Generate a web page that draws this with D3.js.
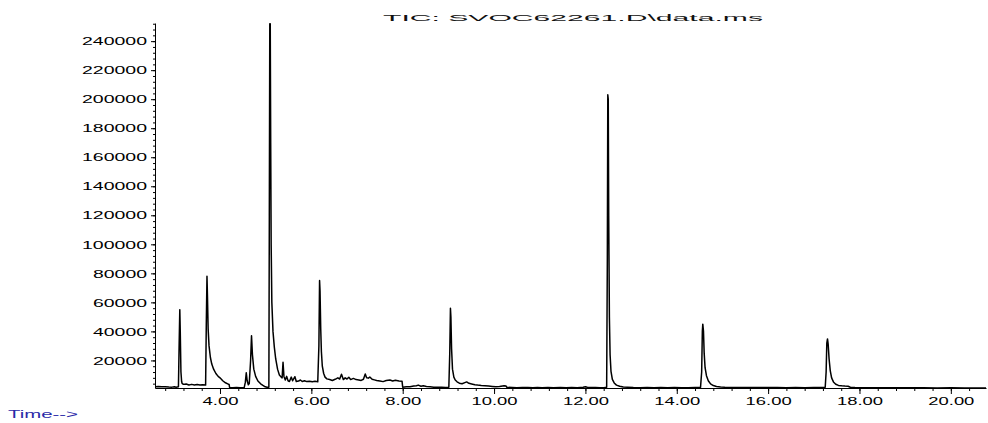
<!DOCTYPE html>
<html>
<head>
<meta charset="utf-8">
<script src="https://cdn.jsdelivr.net/npm/d3@7"></script>
<style>
  body { margin: 0; background: #fff; }
  text { font-family: "Liberation Sans", Arial, sans-serif; }
</style>
</head>
<body>
<script>
// chromatogram trace (minutes, abundance)
var times = [
  2.58, 2.65, 2.72, 2.80, 2.88, 2.95, 3.00, 3.04, 3.09,
  3.105, 3.12, 3.13, 3.145, 3.16, 3.17, 3.20, 3.26, 3.32, 3.38, 3.44, 3.50, 3.56, 3.62, 3.685,
  3.70, 3.715, 3.725, 3.74, 3.76, 3.79, 3.82, 3.86, 3.91, 3.96, 4.00, 4.06, 4.12, 4.18, 4.20,
  4.21, 4.28, 4.36, 4.44, 4.53,
  4.555, 4.575, 4.595, 4.62, 4.64, 4.67, 4.69, 4.71, 4.74, 4.78, 4.83, 4.89, 4.94, 4.99, 5.03, 5.07,
  5.08, 5.09, 5.10, 5.11, 5.12, 5.135, 5.16, 5.19, 5.22, 5.26, 5.30, 5.34, 5.36,
  5.38, 5.40, 5.43, 5.46, 5.49, 5.52, 5.56, 5.59, 5.64, 5.67, 5.72, 5.76, 5.80, 5.85, 5.90, 5.96,
  6.02, 6.08, 6.14,
  6.165, 6.18, 6.19, 6.205, 6.22, 6.24, 6.27, 6.30, 6.34, 6.40, 6.46, 6.52, 6.58, 6.62, 6.66, 6.70,
  6.74, 6.78, 6.82, 6.86, 6.92, 6.98, 7.04, 7.09, 7.14, 7.18, 7.21, 7.25, 7.28, 7.33, 7.38,
  7.43, 7.50, 7.57, 7.64, 7.72, 7.78, 7.84, 7.92, 7.985,
  8.00, 8.08, 8.16, 8.24, 8.30, 8.34, 8.40, 8.45, 8.52, 8.60, 8.68, 8.76, 8.85, 8.94, 9.01,
  9.03, 9.045, 9.055, 9.07, 9.09, 9.12, 9.15, 9.19, 9.24, 9.30, 9.36, 9.40, 9.45, 9.51, 9.58, 9.64,
  9.72, 9.80, 9.88, 9.96, 10.04, 10.12, 10.22, 10.26, 10.28, 10.40, 10.50, 10.62, 10.74,
  10.85, 10.95, 11.05, 11.18, 11.30, 11.45, 11.58, 11.70, 11.82, 11.95, 12.00, 12.04, 12.12,
  12.22, 12.32, 12.42, 12.465,
  12.48, 12.49, 12.50, 12.51, 12.525, 12.54, 12.56, 12.59, 12.63, 12.68, 12.75, 12.83, 12.92,
  13.05, 13.20, 13.35, 13.50, 13.65, 13.80, 13.95, 14.10, 14.25, 14.40, 14.52,
  14.545, 14.56, 14.57, 14.585, 14.60, 14.62, 14.65, 14.69, 14.74, 14.80, 14.87, 14.96, 15.05,
  15.20, 15.40, 15.60, 15.80, 16.00, 16.20, 16.40, 16.60, 16.80, 17.00, 17.15, 17.25,
  17.27, 17.285, 17.30, 17.315, 17.335, 17.36, 17.39, 17.43, 17.48, 17.54, 17.61, 17.68, 17.75,
  17.80, 17.90, 18.10, 18.30, 18.50, 18.80, 19.10, 19.40, 19.70, 20.00, 20.30, 20.77
];
var abundance = [
  1900, 2100, 1800, 1900, 1700, 1600, 1900, 1500, 1800,
  30000, 55000, 40000, 12000, 5500, 4200, 3500, 3800, 3100, 3500, 3000, 3400, 3000, 3300, 3000,
  45000, 78000, 65000, 42000, 30000, 22000, 17500, 14000, 11000, 9000, 8000, 6000, 4600, 3700, 3400,
  1400, 1200, 1300, 1100, 1300,
  5000, 11500, 6000, 3200, 4000, 20000, 37000, 24000, 14000, 9000, 5800, 3900, 2800, 1800, 1500, 1600,
  120000, 252000, 252000, 170000, 100000, 60000, 40000, 29000, 21000, 14000, 10000, 8500, 8000,
  18700, 9000, 6500, 9000, 6000, 5500, 8500, 6000, 8800, 5500, 5800, 6500, 5500, 6000, 5400, 5600,
  5300, 5600, 5300,
  30000, 75000, 68000, 42000, 26000, 16000, 11000, 8500, 7300, 6800, 6200, 7000, 8000, 7200, 10500, 6800,
  8000, 7200, 8400, 6800, 7600, 6800, 6500, 6200, 7000, 10600, 8000, 7800, 8600, 7000, 6600,
  6200, 5800, 5400, 6200, 6500, 5800, 6300, 5900, 5700,
  1600, 1800, 1900, 2400, 2600, 3000, 2200, 2500, 2000, 1800, 1600, 1500, 1600, 1400, 1500,
  25000, 56000, 50000, 28000, 14000, 8500, 6500, 5300, 4300, 3900, 4700, 5200, 4200, 3800, 3300, 3000,
  2700, 2500, 2300, 2100, 1900, 2000, 2600, 2400, 1500, 1300, 1200, 1400, 1300,
  1200, 1400, 1200, 1300, 1100, 1300, 1200, 1300, 1200, 1500, 1900, 1500, 1300,
  1300, 1200, 1300, 1500,
  90000, 203000, 200000, 120000, 50000, 24000, 12500, 7000, 4500, 3000, 2200, 1700, 1500,
  1300, 1200, 1300, 1200, 1300, 1200, 1300, 1200, 1200, 1300, 1400,
  12000, 40000, 45000, 40000, 25000, 15000, 9500, 6000, 3800, 2700, 2000, 1700, 1500,
  1400, 1300, 1400, 1300, 1400, 1300, 1200, 1300, 1200, 1300, 1300, 1500,
  12000, 32000, 34800, 31000, 21000, 13000, 8000, 5200, 3600, 2800, 2500, 2300, 2200,
  1500, 1300, 1200, 1200, 1100, 1200, 1100, 1100, 1000, 1100, 1000, 1000
];

// axis ticks
var yTicks = [20000, 40000, 60000, 80000, 100000, 120000, 140000, 160000, 180000, 200000, 220000, 240000];
var yMinor = d3.range(4000, 252001, 4000);
var xTicks = [4, 6, 8, 10, 12, 14, 16, 18, 20];
var xMinor = d3.range(2.8, 20.6, 0.4);

var title = "TIC: SVOC62261.D\\data.ms";

var data = times.map(function(t, i) { return {t: t, v: abundance[i]}; });

var svg = d3.select("body").append("svg")
    .attr("width", 988)
    .attr("height", 423);

var x = d3.scaleLinear().domain([2.577, 20.77]).range([155, 986]);
var y = d3.scaleLinear().domain([1000, 252500]).range([388, 23]);

// minor ticks first, no labels
svg.append("g")
    .attr("transform", "translate(155,0)")
    .call(d3.axisLeft(y).tickValues(yMinor).tickSize(2).tickSizeOuter(0).tickFormat(""))
    .call(function(g) { g.select(".domain").remove(); });

svg.append("g")
    .attr("transform", "translate(0,388)")
    .call(d3.axisBottom(x).tickValues(xMinor).tickSize(3).tickSizeOuter(0).tickFormat(""))
    .call(function(g) { g.select(".domain").remove(); });

// y axis
var yAxis = svg.append("g")
    .attr("transform", "translate(155,0)")
    .call(d3.axisLeft(y).tickValues(yTicks).tickSize(4).tickSizeOuter(0).tickPadding(4)
      .tickFormat(d3.format("d")));
yAxis.selectAll("text")
    .attr("font-size", 11.5)
    .attr("fill", "#000")
    .attr("textLength", function(d) { return String(d).length * 11 - 1; })
    .attr("lengthAdjust", "spacingAndGlyphs");

// x axis
var xAxis = svg.append("g")
    .attr("transform", "translate(0,388)")
    .call(d3.axisBottom(x).tickValues(xTicks).tickSize(6).tickSizeOuter(0).tickPadding(3)
      .tickFormat(d3.format(".2f")));
xAxis.selectAll("text")
    .attr("font-size", 11.5)
    .attr("fill", "#000")
    .attr("textLength", function(d) { return d >= 10 ? 46 : 36; })
    .attr("lengthAdjust", "spacingAndGlyphs");

svg.selectAll(".domain").attr("stroke", "#000");

// the trace
var line = d3.line()
    .x(function(d) { return x(d.t); })
    .y(function(d) { return y(d.v); });

svg.append("path")
    .datum(data)
    .attr("fill", "none")
    .attr("stroke", "#000")
    .attr("stroke-width", 1.5)
    .attr("stroke-linejoin", "round")
    .attr("d", line);

// title
svg.append("text")
    .attr("x", 383)
    .attr("y", 21)
    .attr("font-size", 9.5)
    .attr("textLength", 380)
    .attr("lengthAdjust", "spacingAndGlyphs")
    .attr("fill", "#111")
    .text(title);

svg.append("text")
    .attr("x", 8)
    .attr("y", 418)
    .attr("font-size", 11)
    .attr("textLength", 70)
    .attr("lengthAdjust", "spacingAndGlyphs")
    .attr("fill", "#2a2aa8")
    .text("Time-->");
</script>
</body>
</html>
